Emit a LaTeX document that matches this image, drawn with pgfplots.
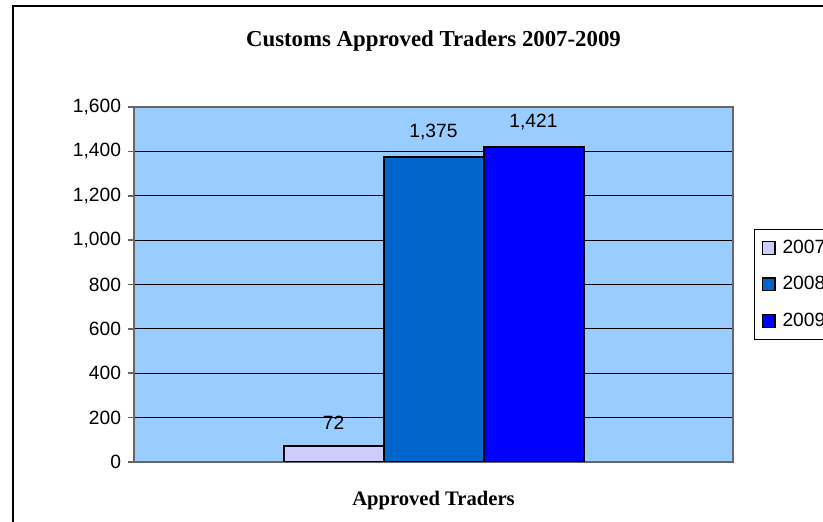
\documentclass[border=0pt]{standalone}
\usepackage{pgfplots}
\pgfplotsset{compat=1.18}
\usepackage{fontspec}
\setmainfont{Liberation Serif}
\newfontfamily\arial{Liberation Sans}
\definecolor{plotbg}{HTML}{99CCFF}
\definecolor{cA}{HTML}{CCCCFF}
\definecolor{cB}{HTML}{0066CC}
\definecolor{cC}{HTML}{0000FF}
\begin{document}
\begin{tikzpicture}
\begin{axis}[
  at={(67pt,30pt)}, anchor=south west,
  scale only axis, width=299.5pt, height=177.5pt,
  xmin=-1, xmax=1, ymin=0, ymax=1600,
  ytick={0,200,...,1600}, xtick=\empty,
  ytick pos=left, tick align=outside, major tick length=3pt,
  tick style={gray!80!black, line width=0.8pt},
  axis line style={gray!80!black, line width=1pt},
  axis background/.style={fill=plotbg},
  ymajorgrids, grid style={black, line width=0.5pt},
  /pgf/number format/.cd, 1000 sep={,}, assume math mode=true, /pgfplots/.cd,
  ticklabel style={font=\arial\fontsize{9.6}{11}\selectfont},
  ybar=0pt, bar width=50pt,
  nodes near coords,
  every node near coord/.append style={font=\arial\fontsize{9.6}{11}\selectfont, black, yshift=4.5pt},
  title={\bfseries Customs Approved Traders 2007-2009},
  title style={at={(0.5,1)}, anchor=center, yshift=27pt, font=\fontsize{11.4}{13}\selectfont},
  xlabel={\bfseries Approved Traders},
  xlabel style={at={(0.5,0)}, anchor=center, yshift=-19.5pt, font=\fontsize{10.3}{12}\selectfont},
  legend style={at={(1,0.5)}, anchor=west, xshift=10.5pt, yshift=0pt, draw=black, line width=0.5pt,
    font=\arial\fontsize{9.6}{11}\selectfont, row sep=6pt, inner xsep=3pt, inner ysep=3pt,
    legend cell align=left},
]
\addplot[fill=cA, draw=black, line width=1pt, legend image code/.code={\draw[fill=cA,draw=black,line width=0.6pt] (1pt,-3.2pt) rectangle (7.2pt,3.2pt); \path[draw=none,fill=none] (0pt,0pt) -- (9pt,0pt);}] coordinates {(0,72)};
\addplot[fill=cB, draw=black, line width=1pt, legend image code/.code={\draw[fill=cB,draw=black,line width=0.6pt] (1pt,-3.2pt) rectangle (7.2pt,3.2pt); \path[draw=none,fill=none] (0pt,0pt) -- (9pt,0pt);}] coordinates {(0,1375)};
\addplot[fill=cC, draw=black, line width=1pt, legend image code/.code={\draw[fill=cC,draw=black,line width=0.6pt] (1pt,-3.2pt) rectangle (7.2pt,3.2pt); \path[draw=none,fill=none] (0pt,0pt) -- (9pt,0pt);}] coordinates {(0,1421)};
\legend{2007,2008,2009}
\end{axis}
\draw[line width=1pt] (6.5pt,-20pt) rectangle (460pt,258pt);
\pgfresetboundingbox
\useasboundingbox (0,0) rectangle (411.5pt,261pt);
\end{tikzpicture}
\end{document}
